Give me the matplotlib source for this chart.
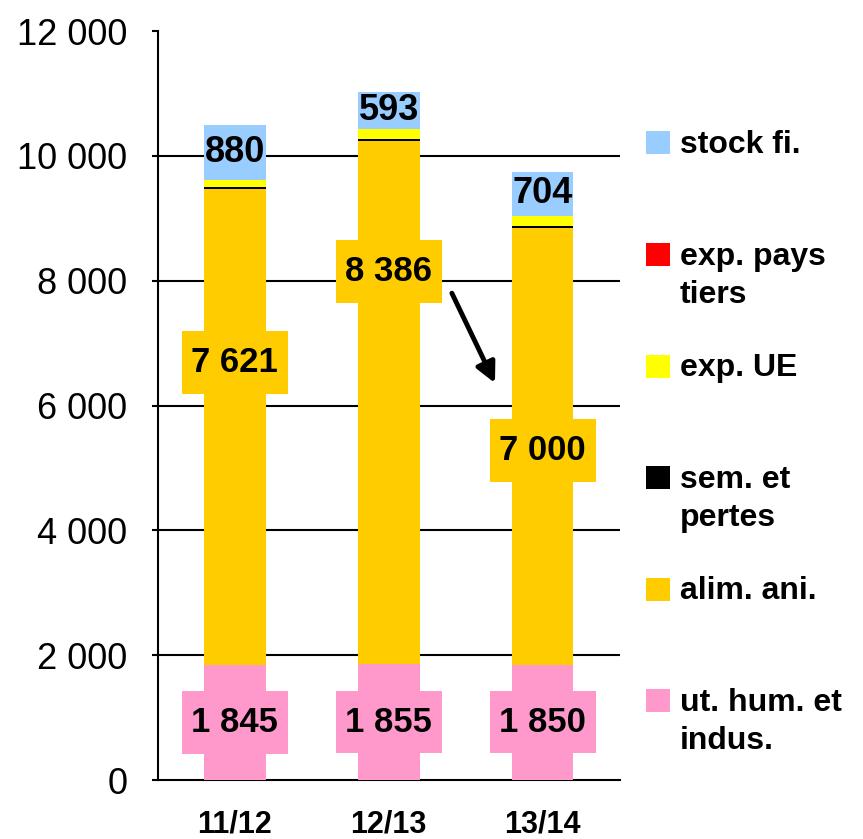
import matplotlib
matplotlib.use("Agg")
import matplotlib.pyplot as plt
from matplotlib.patches import Rectangle
from matplotlib.ticker import FuncFormatter
import numpy as np

# ---------------------------
# Data
# ---------------------------
years = ["11/12", "12/13", "13/14"]
ut_hum = [1845, 1855, 1850]
alim_ani = [7621, 8386, 7000]
sem_pertes = [30, 30, 30]
exp_ue = [120, 160, 160]
exp_pays_tiers = [0, 0, 0]
stock_fi = [880, 593, 704]

series_names = ["ut. hum. et\nindus.", "alim. ani.", "sem. et\npertes",
                "exp. UE", "exp. pays\ntiers", "stock fi."]
series_colors = ["#FF99CC", "#FFCC00", "#000000", "#FFFF00", "#FF0000", "#99CCFF"]

# where the alim. ani. labels sit (data units)
alim_label_y = [6690, 8150, 5280]


def fmt(v):
    return f"{int(v):,}".replace(",", " ")


# ---------------------------
# Figure
# ---------------------------
plt.rcParams["font.family"] = ["Liberation Sans", "DejaVu Sans"]

fig = plt.figure(figsize=(8.63, 8.39), dpi=100)
ax = fig.add_axes([0.183, 0.0703, 0.535, 0.8927])

x = np.arange(len(years))
width = 0.4
series = [ut_hum, alim_ani, sem_pertes, exp_ue, exp_pays_tiers, stock_fi]

bottom = np.zeros(len(years))
for vals, col in zip(series, series_colors):
    ax.bar(x, vals, width, bottom=bottom, color=col, edgecolor="none", zorder=3)
    bottom += np.array(vals)

# gridlines
for gy in range(2000, 12000, 2000):
    ax.axhline(gy, color="black", lw=1.5, zorder=1)

ax.set_xlim(-0.5, 2.5)
ax.set_ylim(0, 12000)
ax.set_yticks(range(0, 12001, 2000))
ax.yaxis.set_major_formatter(FuncFormatter(lambda v, p: fmt(v)))
ax.tick_params(axis="y", labelsize=26, length=4, width=1.5, pad=18)
ax.set_xticks(x)
ax.set_xticklabels(years, fontsize=22, fontweight="bold")
ax.tick_params(axis="x", length=0, pad=21)

for s in ["top", "right"]:
    ax.spines[s].set_visible(False)
ax.spines["left"].set_linewidth(1.5)
ax.spines["bottom"].set_linewidth(1.5)

# ---------------------------
# Value labels
# ---------------------------
box_w, box_h = 0.69, 1000
for i in range(len(years)):
    for yy, val, col in [(ut_hum[i] / 2, ut_hum[i], series_colors[0]),
                         (alim_label_y[i], alim_ani[i], series_colors[1])]:
        ax.add_patch(Rectangle((x[i] - box_w / 2, yy - box_h / 2), box_w, box_h,
                               fc=col, ec="none", zorder=4))
        ax.text(x[i], yy, fmt(val), ha="center", va="center",
                fontsize=25, fontweight="bold", zorder=5)
    ax.text(x[i], bottom[i] - stock_fi[i] / 2, str(stock_fi[i]),
            ha="center", va="center", fontsize=26, fontweight="bold", zorder=5)

# arrow between 12/13 and 13/14
ax.annotate("", xy=(1.69, 6360), xytext=(1.41, 7800),
            arrowprops=dict(arrowstyle="-|>", lw=3.5, color="black",
                            mutation_scale=30, shrinkA=0, shrinkB=0),
            zorder=6)

# ---------------------------
# Legend (drawn by hand, evenly spaced)
# ---------------------------
leg_top = 0.8296
leg_step = 0.133
for k, (name, col) in enumerate(zip(series_names[::-1], series_colors[::-1])):
    yy = leg_top - k * leg_step
    fig.patches.append(Rectangle((0.7485, yy - 0.0137), 0.0278, 0.0274,
                                 transform=fig.transFigure, fc=col, ec="none"))
    fig.text(0.788, yy + 0.0155, name, ha="left", va="top", fontsize=23,
             fontweight="bold", linespacing=1.35)

fig.savefig("out.png", dpi=100)
